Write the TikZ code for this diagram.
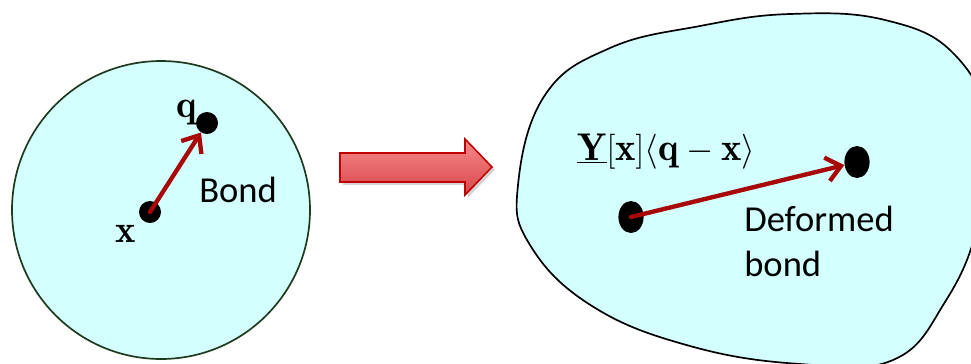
\documentclass[tikz,border=0pt]{standalone}
\usepackage{fontspec}
\setsansfont{Carlito}
\usepackage{xcolor}
\usetikzlibrary{arrows.meta,shapes.geometric,shadows}
\definecolor{bodyCyan}{HTML}{D3FFFF}
\definecolor{rimGreen}{HTML}{1E3A1E}
\definecolor{bondRed}{HTML}{A80808}
\definecolor{mapTop}{HTML}{F6898B}
\definecolor{mapBottom}{HTML}{D8474A}
\definecolor{mapRim}{HTML}{C00000}
\tikzset{
  font=\sffamily,
  body/.style={fill=bodyCyan, line width=1.2pt},
  point/.style={circle, fill=black, inner sep=0pt, minimum size=0.55cm},
  defpoint/.style={ellipse, fill=black, inner sep=0pt, minimum width=0.63cm, minimum height=0.8cm},
  bond/.style={-{Straight Barb[length=3.6mm,width=6mm,line width=3.1pt]}, draw=bondRed, line width=3.1pt, line cap=round},
  mapArrow/.style={draw=mapRim, line width=1.1pt, top color=mapTop, bottom color=mapBottom,
    drop shadow={opacity=0.35, shadow xshift=2pt, shadow yshift=-2pt}},
  mathLabel/.style={font=\fontsize{27.5}{33}\selectfont, inner sep=0pt},
  textLabel/.style={font=\sffamily\fontsize{26}{32}\selectfont, inner sep=0pt, align=left}
}
\begin{document}
\begin{tikzpicture}[x=0.025cm,y=-0.025cm]
\useasboundingbox (0,0) rectangle (971,363);

% --------------------------------------------------------------------------
% Reference body
% --------------------------------------------------------------------------
\draw[body, draw=rimGreen] (161,210) circle (149);
\node[point] (xDot) at (150,212) {};
\node[point] (qDot) at (207,123) {};
\node[mathLabel, anchor=base] (xLabel) at (126,242) {$\mathbf{x}$};
\node[mathLabel, anchor=base] (qLabel) at (187,117) {$\mathbf{q}$};
\node[textLabel, anchor=base west] (bondLabel) at (199,202) {Bond};
\draw[bond] (xDot.center) -- (qDot);

% --------------------------------------------------------------------------
% Mapping arrow
% --------------------------------------------------------------------------
\draw[mapArrow] (340,153) -- (465,153) -- (465,139) -- (492,167)
  -- (465,195) -- (465,182) -- (340,182) -- cycle;

% --------------------------------------------------------------------------
% Deformed body
% --------------------------------------------------------------------------
\draw[body, draw=black] plot[smooth cycle, tension=0.7] coordinates {
  (518,185) (545,95) (610,48) (700,26) (790,14) (885,20) (955,55)
  (990,130) (978,225) (945,302) (893,360) (800,364) (690,346)
  (592,306) (530,245)};
\node[defpoint] (xDefDot) at (631,217) {};
\node[defpoint] (qDefDot) at (857,162) {};
\node[mathLabel, anchor=base west] (mapLabel) at (577,160)
  {$\underline{\mathbf{Y}}[\mathbf{x}]\langle\mathbf{q}-\mathbf{x}\rangle$};
\node[textLabel, anchor=north west] (defLabel) at (744,206) {Deformed\\bond};
\draw[bond] (xDefDot.center) -- (qDefDot);

\end{tikzpicture}
\end{document}
